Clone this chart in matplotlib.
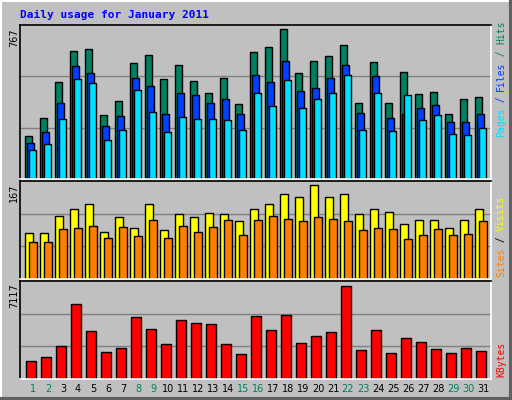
import matplotlib
matplotlib.use("Agg")
import matplotlib.pyplot as plt
from matplotlib.patches import Rectangle
from matplotlib.lines import Line2D

days = list(range(1, 32))
weekend = [1, 2, 8, 9, 15, 16, 22, 23, 29, 30]
hits = [214, 305, 484, 639, 649, 320, 388, 580, 619, 497, 568, 487, 426, 502, 376, 634,
        659, 745, 528, 588, 614, 669, 381, 583, 381, 533, 421, 432, 325, 396, 406]
files = [179, 234, 381, 563, 528, 265, 315, 502, 462, 325, 426, 416, 381, 396, 325, 517,
         482, 588, 437, 452, 502, 568, 330, 512, 305, 325, 356, 371, 285, 285, 325]
pages = [143, 174, 300, 497, 477, 194, 244, 442, 335, 234, 310, 300, 300, 295, 244, 426,
         366, 492, 356, 396, 426, 517, 244, 426, 239, 416, 295, 320, 224, 219, 255]
visits = [79, 79, 108, 119, 127, 80, 106, 87, 127, 84, 110, 105, 112, 110, 98, 119,
          127, 145, 140, 161, 140, 145, 110, 120, 115, 93, 101, 101, 87, 101, 120]
sites = [63, 63, 86, 87, 91, 70, 89, 73, 101, 70, 91, 80, 89, 101, 75, 101,
         108, 103, 98, 106, 103, 98, 84, 87, 86, 68, 75, 86, 75, 77, 98]
kbytes = [1276, 1571, 2380, 5473, 3485, 1939, 2233, 4515, 3632, 2528, 4295, 4074, 4000, 2528,
          1791, 4589, 3558, 4663, 2601, 3117, 3411, 6724, 2086, 3558, 1865, 2970, 2675, 2160,
          1865, 2233, 2012]
max_hits, max_visits, max_kb = 767, 167, 7117

W, H = 512, 400
BG = "#C0C0C0"
fig = plt.figure(figsize=(W / 100, H / 100), dpi=100, facecolor=BG)

def fx(px): return px / W
def fy(py): return 1 - py / H

# outer bevel
fig.add_artist(Line2D([fx(0.5), fx(511.5)], [fy(0.5), fy(0.5)], color="white", lw=1.5))
fig.add_artist(Line2D([fx(0.5), fx(0.5)], [fy(0.5), fy(399.5)], color="white", lw=1.5))
fig.add_artist(Line2D([fx(0.5), fx(511.5)], [fy(398.5), fy(398.5)], color="#606060", lw=3))
fig.add_artist(Line2D([fx(510.5), fx(510.5)], [fy(0.5), fy(399.5)], color="#606060", lw=3))

fig.text(fx(20), fy(15), "Daily usage for January 2011", color="#0000FF",
         family="DejaVu Sans Mono", weight="bold", fontsize=8, va="center", ha="left")

X0, X1 = 20, 491
XMAX = (X1 - X0) / 15.0

def panel(top, bot, vmax):
    ax = fig.add_axes([fx(X0), fy(bot), fx(X1) - fx(X0), fy(top) - fy(bot)])
    ax.set_facecolor(BG)
    ax.set_xlim(0, XMAX)
    ax.set_ylim(0, vmax)
    for s in ("top", "left"):
        ax.spines[s].set_color("black")
    for s in ("bottom", "right"):
        ax.spines[s].set_color("white")
    for s in ax.spines.values():
        s.set_linewidth(1.2)
    ax.set_xticks([]); ax.set_yticks([])
    for f in (1 / 3, 2 / 3):
        ax.axhline(vmax * f, color="#808080", lw=1, zorder=0)
    return ax

def bars(ax, vals, off, w, color):
    ax.bar([d - 1 + off for d in days], vals, width=w, align="edge", color=color,
           edgecolor="black", linewidth=1, zorder=2)

ax1 = panel(25, 179, max_hits)
bars(ax1, hits, 0.33, 0.47, "#008060")
bars(ax1, files, 0.47, 0.47, "#0040FF")
bars(ax1, pages, 0.6, 0.47, "#00E0FF")

ax2 = panel(181, 279, max_visits)
bars(ax2, visits, 0.33, 0.53, "#FFFF00")
bars(ax2, sites, 0.6, 0.5, "#FF8000")

ax3 = panel(281, 379, max_kb)
bars(ax3, kbytes, 0.4, 0.67, "#FF0000")

for d in days:
    x = fx(X0 + (d - 1) * 15 + 13)
    fig.text(x, fy(389), str(d), color="#008060" if d in weekend else "black",
             fontsize=7, ha="center", va="center", family="DejaVu Sans")

for label, ypx in (("767", 28), ("167", 183), ("7117", 283)):
    fig.text(fx(14), fy(ypx), label, rotation=90, fontsize=7, ha="center", va="top",
             family="DejaVu Sans")

CW = 5.8
def right_label(parts, bottom_py):
    y = bottom_py
    for txt, col in parts:
        fig.text(fx(501), fy(y), txt, rotation=90, color=col, fontsize=7,
                 family="DejaVu Sans Mono", ha="center", va="bottom")
        y -= CW * len(txt)

right_label([("Pages", "#00E0FF"), (" / ", "#0040FF"), ("Files", "#0040FF"),
             (" / ", "#008060"), ("Hits", "#008060")], 137)
right_label([("Sites", "#FF8000"), (" / ", "black"), ("Visits", "#FFFF00")], 277)
right_label([("KBytes", "#FF0000")], 377)

fig.savefig("out.png", dpi=100, facecolor=BG)
